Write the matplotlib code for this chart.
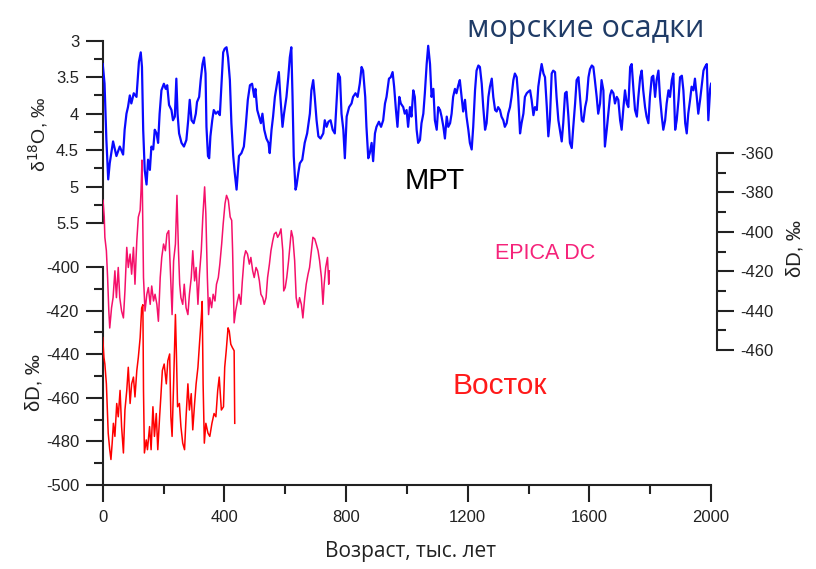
import matplotlib
matplotlib.use("Agg")
import matplotlib.pyplot as plt
from matplotlib.ticker import FixedLocator

plt.rcParams["axes.unicode_minus"] = False

# marine sediments (benthic stack), d18O permil
ocean_age = [
    0, 6, 12, 18, 23, 34, 45, 56, 67, 72, 78, 83, 89, 94, 102, 111, 119, 125,
    129, 133, 138, 144, 149, 155, 160, 166, 171, 177, 182, 187, 193, 201, 207,
    212, 218, 226, 231, 237, 242, 246, 251, 259, 267, 275, 281, 286, 292, 299,
    306, 310, 317, 322, 328, 333, 338, 341, 346, 350, 354, 360, 365, 372, 379,
    385, 390, 396, 401, 407, 412, 418, 423, 429, 434, 440, 443, 448, 456, 464,
    470, 477, 484, 491, 498, 502, 508, 514, 520, 525, 531, 538, 545, 549, 555,
    560, 566, 573, 579, 584, 591, 596, 604, 610, 615, 620, 624, 628, 634, 637,
    643, 648, 656, 664, 672, 681, 686, 692, 697, 703, 709, 716, 725, 730, 736,
    742, 749, 756, 763, 769, 774, 780, 785, 791, 796, 802, 810, 818, 823, 831,
    838, 845, 851, 856, 863, 867, 873, 878, 884, 889, 895, 900, 908, 915, 922,
    928, 933, 941, 947, 953, 958, 964, 969, 975, 980, 988, 993, 999, 1004,
    1010, 1015, 1021, 1026, 1032, 1037, 1043, 1048, 1054, 1059, 1065, 1070,
    1076, 1081, 1087, 1092, 1098, 1103, 1109, 1114, 1120, 1125, 1131, 1136,
    1142, 1147, 1152, 1158, 1163, 1169, 1174, 1180, 1185, 1191, 1196, 1202,
    1207, 1213, 1218, 1224, 1229, 1235, 1240, 1246, 1251, 1257, 1262, 1268,
    1273, 1279, 1284, 1290, 1295, 1300, 1306, 1311, 1317, 1322, 1328, 1333,
    1339, 1344, 1350, 1355, 1361, 1366, 1372, 1377, 1383, 1388, 1394, 1399,
    1405, 1410, 1416, 1421, 1427, 1432, 1438, 1443, 1449, 1454, 1460, 1465,
    1470, 1476, 1481, 1487, 1492, 1498, 1503, 1509, 1514, 1520, 1525, 1531,
    1536, 1542, 1547, 1553, 1558, 1564, 1569, 1575, 1580, 1586, 1591, 1597,
    1602, 1608, 1613, 1618, 1624, 1629, 1635, 1640, 1646, 1651, 1657, 1662,
    1668, 1673, 1679, 1684, 1690, 1695, 1701, 1706, 1712, 1717, 1723, 1728,
    1734, 1739, 1745, 1750, 1756, 1761, 1767, 1772, 1777, 1783, 1788, 1794,
    1799, 1805, 1810, 1816, 1821, 1827, 1832, 1838, 1843, 1849, 1854, 1860,
    1865, 1871, 1876, 1882, 1887, 1893, 1898, 1904, 1909, 1915, 1920, 1925,
    1931, 1936, 1942, 1947, 1953, 1958, 1964, 1969, 1975, 1980, 1986, 1991,
    1997, 2000,
]
ocean_d18o = [
    3.32, 3.59, 4.36, 4.90, 4.68, 4.38, 4.58, 4.45, 4.56, 4.22, 4.00, 3.91,
    3.75, 3.86, 3.72, 3.77, 3.29, 3.16, 3.36, 4.22, 4.77, 4.97, 4.63, 4.77,
    4.45, 4.49, 4.22, 4.27, 4.40, 4.00, 3.68, 3.59, 3.66, 3.61, 3.88, 3.95,
    4.09, 4.04, 3.52, 4.00, 4.27, 4.40, 4.45, 4.36, 4.09, 3.81, 4.09, 4.13,
    4.00, 3.84, 3.77, 3.54, 3.32, 3.23, 3.45, 4.18, 4.58, 4.61, 4.31, 4.09,
    3.95, 4.00, 3.97, 4.02, 3.63, 3.16, 3.11, 3.09, 3.23, 3.54, 4.13, 4.58,
    4.81, 5.04, 4.86, 4.58, 4.54, 4.45, 4.18, 3.81, 3.61, 3.59, 3.77, 3.66,
    3.95, 4.04, 4.13, 4.00, 4.22, 4.34, 4.40, 4.54, 4.22, 4.04, 3.77, 3.59,
    3.43, 3.77, 4.18, 4.00, 3.77, 3.50, 3.23, 3.09, 3.77, 4.58, 5.04, 4.99,
    4.81, 4.68, 4.63, 4.40, 4.27, 4.00, 3.68, 3.54, 3.77, 4.09, 4.31, 4.34,
    4.27, 4.09, 4.18, 4.11, 4.09, 4.22, 4.27, 3.81, 3.45, 3.50, 4.00, 4.22,
    4.61, 4.04, 3.91, 3.86, 3.77, 3.72, 3.77, 3.59, 3.36, 3.41, 3.77, 4.18,
    4.61, 4.54, 4.40, 4.65, 4.27, 4.18, 4.11, 4.18, 4.09, 3.86, 3.77, 3.52,
    3.50, 3.43, 3.63, 3.95, 4.18, 3.77, 3.86, 3.91, 4.00, 3.95, 4.18, 3.91,
    4.04, 3.68, 3.77, 4.22, 4.40, 4.36, 4.13, 4.00, 3.72, 3.32, 3.07,
    3.32, 3.77, 3.66, 4.09, 4.22, 3.91, 3.95, 4.04, 4.18, 4.34, 4.04, 4.18,
    4.13, 4.00, 3.77, 3.66, 3.72, 3.61, 3.54, 3.77, 3.97, 3.81, 4.04, 4.22,
    4.40, 4.49, 4.18, 3.68, 3.41, 3.34, 3.36, 3.59, 3.91, 4.22, 4.13, 3.77,
    3.63, 3.52, 3.77, 3.95, 3.97, 3.91, 3.95, 4.04, 4.09, 4.18, 4.13, 4.00,
    3.91, 3.77, 3.54, 3.45, 3.50, 3.77, 4.27, 4.13, 4.00, 3.77, 3.72, 3.70,
    3.68, 3.81, 4.02, 3.91, 3.95, 3.63, 3.45, 3.32, 3.45, 3.50, 3.91, 4.31,
    4.09, 3.45, 3.41, 3.43, 3.77, 4.09, 4.22, 4.38, 4.13, 3.72, 3.70, 4.04,
    4.40, 4.47, 4.18, 3.86, 3.54, 3.50, 3.77, 4.09, 4.11, 3.91, 3.81, 3.50,
    3.39, 3.34, 3.36, 3.54, 3.77, 4.00, 3.86, 3.54, 3.68, 4.45, 4.22, 4.00,
    3.75, 3.68, 3.72, 3.86, 3.77, 3.81, 4.09, 4.22, 3.91, 3.68, 3.86, 3.91,
    3.36, 3.32, 3.68, 3.95, 4.04, 3.77, 3.50, 3.41, 3.68, 3.91, 4.04, 4.13,
    3.77, 3.50, 3.48, 3.77, 3.54, 3.41, 3.77, 4.04, 4.22, 4.09, 3.86, 3.68,
    3.77, 3.54, 3.45, 4.22, 4.09, 3.81, 3.50, 3.48, 3.68, 4.13, 4.27, 4.00,
    3.81, 3.63, 3.68, 3.52, 3.77, 4.00, 3.81, 3.63, 3.41, 3.36, 3.32, 4.09,
    3.66, 3.59,
]

# EPICA Dome C, dD permil (right axis)
epica_age = [
    1, 5, 7, 12, 16, 20, 23, 29, 34, 40, 45, 51, 56, 62, 68, 73, 79, 84, 90,
    95, 101, 106, 112, 117, 123, 126, 129, 134, 139, 145, 150, 156, 161, 167,
    172, 178, 183, 189, 194, 200, 206, 211, 217, 222, 228, 233, 239, 244, 249,
    253, 257, 263, 268, 274, 280, 285, 291, 296, 302, 307, 313, 318, 324, 329,
    335, 339, 344, 348, 352, 358, 363, 369, 374, 380, 385, 391, 396, 402, 407,
    413, 419, 424, 427, 432, 437, 443, 448, 454, 459, 465, 470, 476, 482, 487,
    493, 498, 504, 509, 515, 520, 526, 531, 537, 542, 548, 553, 559, 564, 570,
    575, 581, 586, 592, 595, 600, 605, 611, 616, 620, 625, 631, 636, 642, 647,
    653, 658, 664, 669, 675, 680, 686, 691, 697, 702, 708, 713, 719, 724, 728,
    733, 739, 743, 745,
]
epica_dd = [
    -384.0, -392.5, -402.8, -409.6, -423.2, -440.2, -448.8, -438.5, -433.4,
    -419.8, -433.4, -418.1, -433.4, -440.2, -443.7, -430.0, -407.9, -418.1,
    -411.3, -421.5, -407.9, -426.6, -404.5, -392.5, -389.1, -378.9, -363.6,
    -423.2, -440.2, -431.7, -428.3, -436.8, -427.5, -435.1, -431.7, -436.8,
    -445.4, -423.2, -413.0, -406.2, -409.6, -401.1, -399.4, -418.1, -442.0,
    -414.7, -406.2, -381.5, -409.6, -426.6, -433.4, -436.8, -426.6, -438.5,
    -442.0, -431.7, -423.2, -409.6, -424.9, -418.1, -436.8, -421.5, -409.6,
    -392.5, -377.2, -390.8, -423.2, -442.0, -433.4, -438.5, -431.7, -435.1,
    -426.6, -423.2, -416.4, -406.2, -396.0, -385.7, -381.5, -384.0, -392.5,
    -394.2, -409.6, -446.2, -440.2, -435.1, -431.7, -436.8, -424.9, -413.0,
    -409.6, -411.3, -416.4, -413.0, -419.8, -423.2, -418.1, -419.8, -424.9,
    -431.7, -433.4, -436.8, -433.4, -423.2, -416.4, -409.6, -404.5, -401.1,
    -400.2, -402.8, -401.1, -398.5, -409.6, -430.0, -428.3, -423.2, -414.7,
    -406.2, -399.4, -402.8, -414.7, -433.4, -438.5, -433.4, -436.8, -443.7,
    -433.4, -426.6, -421.5, -418.1, -409.6, -402.8, -403.6, -406.2, -409.6,
    -414.7, -423.2, -436.8, -426.6, -418.1, -413.0, -426.6, -419.8,
]

# Vostok, dD permil (lower left axis)
vostok_age = [
    0, 4, 7, 12, 18, 23, 27, 31, 35, 40, 46, 51, 57, 62, 68, 73, 79, 84, 90,
    95, 101, 106, 112, 117, 123, 128, 132, 134, 137, 143, 147, 154, 159, 165,
    170, 176, 181, 187, 191, 196, 202, 209, 214, 220, 224, 228, 233, 239, 242,
    246, 252, 257, 263, 269, 274, 280, 285, 291, 296, 302, 307, 313, 318, 324,
    327, 330, 334, 339, 346, 352, 359, 366, 372, 378, 383, 390, 397, 401, 406,
    412, 416, 421, 426, 432, 434,
]
vostok_dd = [
    -432.4, -441.5, -444.5, -453.6, -476.2, -483.8, -488.3, -480.8, -471.7,
    -477.7, -462.6, -468.7, -456.6, -473.2, -485.3, -465.6, -456.6, -446.0,
    -462.6, -453.6, -450.5, -459.6, -447.5, -441.5, -432.4, -418.8, -417.3,
    -456.6, -485.3, -479.3, -483.8, -473.2, -483.8, -464.1, -477.7, -467.2,
    -483.8, -468.7, -459.6, -447.5, -444.5, -453.6, -443.0, -439.9, -468.7,
    -477.7, -453.6, -421.8, -438.4, -464.1, -462.6, -473.2, -480.8, -483.8,
    -468.7, -453.6, -465.6, -458.1, -474.7, -462.6, -453.6, -446.0, -435.4,
    -423.3, -415.8, -453.6, -480.8, -471.7, -476.2, -477.7, -471.7, -467.2,
    -468.7, -456.6, -450.5, -465.6, -464.1, -446.0, -438.4, -427.9, -429.4,
    -435.4, -436.9, -438.4, -471.7,
]

fig = plt.figure(figsize=(8.16, 5.69), dpi=100)
rect = [0.1259, 0.1476, 0.7455, 0.7809]
axis_col = "#222222"
sans = ["Liberation Sans", "DejaVu Sans"]

# lower left axis: Vostok + x axis
ax_v = fig.add_axes(rect)
ax_v.plot(vostok_age, vostok_dd, color="#ff0000", lw=1.1, zorder=3)
ax_v.set_xlim(0, 2000)
ax_v.set_ylim(-500, -296.2)
ax_v.spines["top"].set_visible(False)
ax_v.spines["right"].set_visible(False)
ax_v.spines["left"].set_bounds(-500, -400)
ax_v.set_yticks([-500, -480, -460, -440, -420, -400])
ax_v.yaxis.set_minor_locator(FixedLocator([-490, -470, -450, -430, -410]))
ax_v.set_xticks([0, 400, 800, 1200, 1600, 2000])
ax_v.xaxis.set_minor_locator(FixedLocator([200, 600, 1000, 1400, 1800]))
ax_v.patch.set_visible(False)

# upper left axis: d18O, inverted
ax_o = fig.add_axes(rect, sharex=ax_v)
ax_o.plot(ocean_age, ocean_d18o, color="#0a0aff", lw=1.6, zorder=3)
ax_o.set_ylim(9.086, 3)
for s in ["top", "right", "bottom"]:
    ax_o.spines[s].set_visible(False)
ax_o.spines["left"].set_bounds(3, 5.5)
ax_o.set_yticks([3, 3.5, 4, 4.5, 5, 5.5])
ax_o.set_yticklabels(["3", "3.5", "4", "4.5", "5", "5.5"])
ax_o.yaxis.set_minor_locator(FixedLocator([3.25, 3.75, 4.25, 4.75, 5.25]))
ax_o.tick_params(axis="x", which="both", bottom=False, labelbottom=False)
ax_o.patch.set_visible(False)

# right axis: EPICA
ax_e = fig.add_axes(rect, sharex=ax_v)
ax_e.plot(epica_age, epica_dd, color="#f5106a", lw=1.1, zorder=2)
ax_e.set_ylim(-528.5, -303.0)
for s in ["top", "left", "bottom"]:
    ax_e.spines[s].set_visible(False)
ax_e.spines["right"].set_position(("outward", 4))
ax_e.spines["right"].set_bounds(-460, -360)
ax_e.yaxis.tick_right()
ax_e.set_yticks([-460, -440, -420, -400, -380, -360])
ax_e.yaxis.set_minor_locator(FixedLocator([-450, -430, -410, -390, -370]))
ax_e.tick_params(axis="x", which="both", bottom=False, labelbottom=False)
ax_e.patch.set_visible(False)

for ax in (ax_v, ax_o, ax_e):
    for s in ax.spines.values():
        s.set_linewidth(1.5)
        s.set_color(axis_col)
    ax.tick_params(which="major", length=12, width=1.5, color=axis_col,
                   pad=5, labelcolor=axis_col)
    ax.tick_params(which="minor", length=6.5, width=1.5, color=axis_col)
    for lab in ax.get_xticklabels() + ax.get_yticklabels():
        lab.set_fontfamily(sans)
        lab.set_fontsize(12)
ax_v.tick_params(axis="x", pad=6)

fig.text(0.047, 0.765, "δ$^{18}$O, ‰", rotation=90, ha="center", va="center",
         fontsize=14, family=sans, color=axis_col)
fig.text(0.042, 0.327, "δD, ‰", rotation=90, ha="center", va="center",
         fontsize=14.5, family=sans, color=axis_col)
fig.text(0.974, 0.564, "δD, ‰", rotation=90, ha="center", va="center",
         fontsize=14.5, family=sans, color=axis_col)
fig.text(0.5025, 0.0316, "Возраст, тыс. лет", ha="center", va="center",
         fontsize=15, family=["Open Sans", "DejaVu Sans"], color=axis_col)

fig.text(0.718, 0.935, "морские осадки", ha="center", va="baseline",
         fontsize=22, family=["Open Sans", "DejaVu Sans"], color="#1f3b66")
fig.text(0.533, 0.682, "МРТ", ha="center", va="center",
         fontsize=21, family=sans, color="black")
fig.text(0.668, 0.5553, "EPICA DC", ha="center", va="center",
         fontsize=15.5, family=sans, color="#f5237a")
fig.text(0.6127, 0.3216, "Восток", ha="center", va="center",
         fontsize=21.5, family=sans, color="#ff1a1a")

fig.savefig("out.png", dpi=100)
